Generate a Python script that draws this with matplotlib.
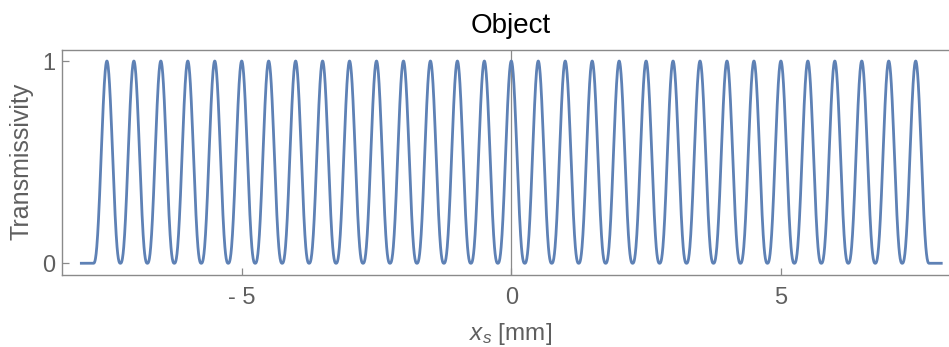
import numpy as np
import matplotlib
matplotlib.use("Agg")
import matplotlib.pyplot as plt

plt.rcParams["font.family"] = ["Liberation Sans", "DejaVu Sans"]
plt.rcParams["mathtext.fontset"] = "custom"
plt.rcParams["mathtext.rm"] = "Liberation Sans"
plt.rcParams["mathtext.it"] = "Liberation Sans:italic"

# Grating: slit centres (mm), peak transmission, slit pitch (mm) and edge sharpness
slit_centres = [-7.5, -7.0, -6.5, -6.0, -5.5, -5.0, -4.5, -4.0, -3.5, -3.0,
                -2.5, -2.0, -1.5, -1.0, -0.5, 0.0, 0.5, 1.0, 1.5, 2.0,
                2.5, 3.0, 3.5, 4.0, 4.5, 5.0, 5.5, 6.0, 6.5, 7.0, 7.5]
peak_transmission = 1.0
slit_pitch = 0.5
slit_exponent = 2.6
x_range = (-8.0, 8.0)

x_ticks = [-5, 0, 5]
x_tick_labels = ["- 5", "0", "5"]
y_ticks = [0, 1]
y_tick_labels = ["0", "1"]

# each slit is a cosine-power window one pitch wide
xs = np.linspace(x_range[0], x_range[1], 4001)
trans = np.zeros_like(xs)
for c in slit_centres:
    u = (xs - c) / slit_pitch
    inside = np.abs(u) <= 0.5
    trans[inside] += peak_transmission * np.cos(np.pi * u[inside]) ** slit_exponent

W, H = 949, 347
fig = plt.figure(figsize=(W / 100, H / 100), dpi=100)

x_lo, x_hi = -8.333, 8.333
y_lo, y_hi = -0.058, 1.053
left_px, right_px = 62.0, 960.6
top_px, bottom_px = 50.3, 275.0
ax = fig.add_axes([left_px / W, 1 - bottom_px / H,
                   (right_px - left_px) / W, (bottom_px - top_px) / H])

line_color = "#5E81B5"
frame_color = "#8a8a8a"
text_gray = "#5f5f5f"

ax.axvline(0, color=frame_color, lw=0.9, zorder=1)
ax.plot(xs, trans, color=line_color, lw=2.0, zorder=3, solid_capstyle="butt")

ax.set_xlim(x_lo, x_hi)
ax.set_ylim(y_lo, y_hi)

for s in ax.spines.values():
    s.set_color(frame_color)
    s.set_linewidth(1.0)

ax.set_xticks(x_ticks)
ax.set_xticklabels(x_tick_labels)
ax.set_yticks(y_ticks)
ax.set_yticklabels(y_tick_labels)
ax.tick_params(axis="both", direction="in", length=5, width=0.9,
               color=frame_color, labelcolor=text_gray, labelsize=17)
ax.tick_params(axis="x", pad=9)
ax.tick_params(axis="y", pad=5)

fig.text(511 / W, 1 - 33 / H, "Object", ha="center", va="baseline",
         fontsize=20, color="black")
fig.text(511 / W, 1 - 340 / H, r"$x_s$ [mm]", ha="center", va="baseline",
         fontsize=17.5, color=text_gray)
fig.text(21.5 / W, 1 - 161 / H, "Transmissivity", ha="center", va="center",
         rotation=90, fontsize=18, color=text_gray)

fig.savefig("out.png", dpi=100)
